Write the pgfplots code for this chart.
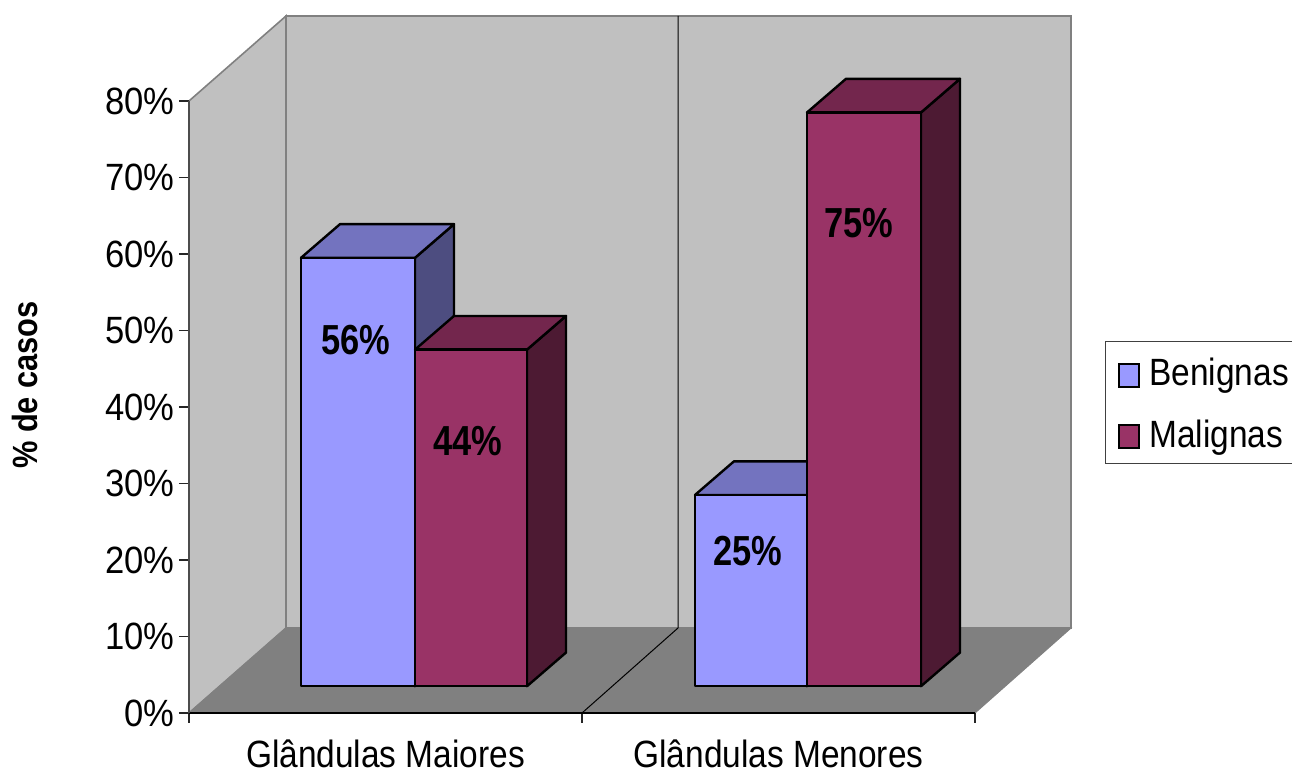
\documentclass[border=0pt]{standalone}
\usepackage{fontspec}
\usepackage{pgfplots}
\pgfplotsset{compat=1.18}
\newfontfamily\chartfont[FakeStretch=0.88]{Liberation Sans}
\newfontfamily\tickfont[FakeStretch=0.91]{Liberation Sans}
\newfontfamily\valuefont[FakeStretch=0.82]{Liberation Sans}
\definecolor{wall}{HTML}{C0C0C0}
\definecolor{floorgray}{HTML}{808080}
\definecolor{benFront}{HTML}{9999FF}
\definecolor{benTop}{HTML}{7373BF}
\definecolor{benSide}{HTML}{4D4D80}
\definecolor{malFront}{HTML}{993366}
\definecolor{malTop}{HTML}{73264D}
\definecolor{malSide}{HTML}{4D1A33}

% Bar base above the front floor edge, and the depth offset of a bar
\def\barBase{3.5}
\def\barDx{39}
\def\barDy{4.4}

% #1 left x, #2 right x, #3 value, #4 colour prefix
\newcommand{\drawbar}[4]{%
  \pgfmathsetmacro\barTop{\barBase+#3}%
  \pgfmathsetmacro\barBackBase{\barBase+\barDy}%
  \pgfmathsetmacro\barBackTop{\barTop+\barDy}%
  \pgfmathsetmacro\barLeftBack{#1+\barDx}%
  \pgfmathsetmacro\barRightBack{#2+\barDx}%
  \edef\drawbarfaces{%
    \noexpand\addplot[forget plot,fill=#4Side,draw=black,line width=2.4pt,line join=round]
      coordinates {(#2,\barBase) (\barRightBack,\barBackBase) (\barRightBack,\barBackTop) (#2,\barTop)} --cycle;
    \noexpand\addplot[forget plot,fill=#4Top,draw=black,line width=2.4pt,line join=round]
      coordinates {(#1,\barTop) (#2,\barTop) (\barRightBack,\barBackTop) (\barLeftBack,\barBackTop)} --cycle;
    \noexpand\addplot[forget plot,fill=#4Front,draw=black,line width=2.4pt,line join=round]
      coordinates {(#1,\barBase) (#2,\barBase) (#2,\barTop) (#1,\barTop)} --cycle;
  }%
  \drawbarfaces
}

\begin{document}
\begin{tikzpicture}[x=1pt,y=1pt]
\path[use as bounding box] (-189pt,-60pt) rectangle (1103pt,713pt);
\begin{axis}[
  at={(0pt,0pt)},anchor=south west,
  scale only axis,width=786pt,height=612pt,
  xmin=189,xmax=975,ymin=0,ymax=80,
  clip=false,axis on top=true,
  axis x line*=bottom,axis y line*=left,
  axis line style={-},
  x axis line style={black,line width=1.2pt},
  y axis line style={black!70,line width=1.6pt},
  tick align=outside,tick pos=lower,
  major tick length=10pt,
  tick style={black!85,line width=1.2pt},
  ytick={0,10,20,30,40,50,60,70,80},
  yticklabels={0\%,10\%,20\%,30\%,40\%,50\%,60\%,70\%,80\%},
  xtick={189,582,975},
  xticklabels={,,},
  extra x ticks={385.5,778.5},
  extra x tick labels={Glândulas Maiores,Glândulas Menores},
  extra x tick style={tick style={draw=none},
    xticklabel style={inner ysep=0pt,text depth=0pt,yshift=-17pt}},
  xticklabel style={font=\chartfont\fontsize{38}{44}\selectfont,text=black},
  yticklabel style={font=\tickfont\fontsize{38}{44}\selectfont,text=black,xshift=-1pt},
  ylabel={\% de casos},
  ylabel style={at={(axis description cs:-0.2087,0.536)},anchor=center,
    font=\chartfont\bfseries\fontsize{35}{38}\selectfont},
  legend style={at={(axis cs:1105,48.6)},anchor=north west,
    draw=black!75,line width=1.2pt,fill=white,
    inner xsep=12pt,inner ysep=14pt,row sep=29pt,
    font=\chartfont\fontsize{38}{44}\selectfont,
    nodes={inner sep=0pt,anchor=base west,text depth=2pt,text height=30pt}},
  legend cell align=left,
  legend image code/.code={%
    \draw[#1,line width=2.4pt] (0pt,-1pt) rectangle (20pt,22pt);
    \path (30pt,0pt);},
]
% side and back walls
\addplot[forget plot,fill=wall,draw=floorgray,line width=1.6pt]
  coordinates {(189,0) (286,11.11) (286,91.11) (189,80)} --cycle;
\addplot[forget plot,fill=wall,draw=floorgray,line width=1.6pt]
  coordinates {(286,11.11) (1071,11.11) (1071,91.11) (286,91.11)} --cycle;
% floor
\addplot[forget plot,fill=floorgray,draw=floorgray,line width=1pt]
  coordinates {(189,0) (975,0) (1071,11.11) (286,11.11)} --cycle;
% divider between the two groups
\addplot[forget plot,draw=black,line width=1pt]
  coordinates {(582,0) (678,11.11) (678,91.11)};

\drawbar{301}{415}{56}{ben}
\drawbar{415}{527}{44}{mal}
\drawbar{695}{807}{25}{ben}
\drawbar{807}{921}{75}{mal}

% value labels
\node[font=\valuefont\bfseries\fontsize{42}{46}\selectfont] at (axis cs:355.5,48.7) {56\%};
\node[font=\valuefont\bfseries\fontsize{42}{46}\selectfont] at (axis cs:468,35.5) {44\%};
\node[font=\valuefont\bfseries\fontsize{42}{46}\selectfont] at (axis cs:748,21.2) {25\%};
\node[font=\valuefont\bfseries\fontsize{42}{46}\selectfont] at (axis cs:859,64) {75\%};

\addlegendimage{fill=benFront,draw=black}
\addlegendentry{Benignas}
\addlegendimage{fill=malFront,draw=black}
\addlegendentry{Malignas}
\end{axis}
\end{tikzpicture}
\end{document}
